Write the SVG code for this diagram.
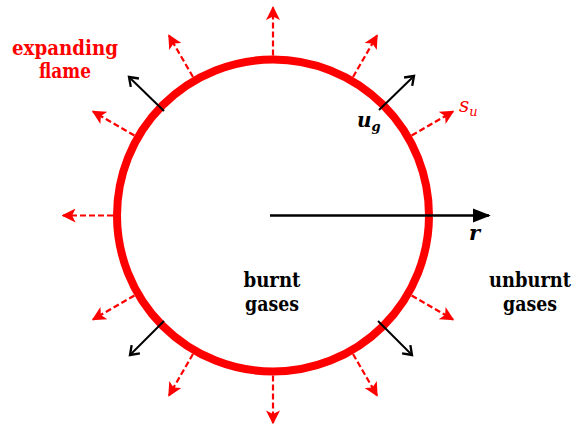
<svg xmlns="http://www.w3.org/2000/svg" width="577" height="424" viewBox="0 0 577 424">
<style>
.red{stroke:#f00;stroke-width:2.2;stroke-dasharray:6 3;fill:none}
.blk{stroke:#000;stroke-width:2;fill:none}
text{font-family:'DejaVu Serif','Liberation Serif',serif}
.lbl{font-weight:bold;font-size:20px;text-anchor:middle}
.it{font-style:italic;font-weight:bold}
.itn{font-style:italic;font-weight:normal}
</style>
<defs>
<marker id="rh" viewBox="0 0 10 10" refX="9" refY="5" markerWidth="14" markerHeight="14" markerUnits="userSpaceOnUse" orient="auto">
<path d="M0,0 L10,5 L0,10 L2.5,5 Z" fill="#f00"/>
</marker>
<marker id="bh" viewBox="0 0 12 12" refX="10" refY="6" markerWidth="14" markerHeight="14" markerUnits="userSpaceOnUse" orient="auto">
<path d="M3,1 L10,6 L3,11" fill="none" stroke="#000" stroke-width="2"/>
</marker>
<marker id="rf" viewBox="0 0 10 10" refX="9" refY="5" markerWidth="18" markerHeight="18" markerUnits="userSpaceOnUse" orient="auto">
<path d="M0,1 L10,5 L0,9 Z" fill="#000"/>
</marker>
</defs>
<g id="flame">
<circle cx="273" cy="215.5" r="156" fill="none" stroke="#f00" stroke-width="8"/>
</g>
<g id="connectors">
<line class="red" x1="353" y1="77" x2="377" y2="35.5" marker-end="url(#rh)"/>
<line class="red" x1="411.6" y1="135.5" x2="453" y2="111.5" marker-end="url(#rh)"/>
<line class="red" x1="273" y1="55.5" x2="273" y2="7.5" marker-end="url(#rh)"/>
<line class="red" x1="193" y1="77" x2="169" y2="35.5" marker-end="url(#rh)"/>
<line class="red" x1="134.4" y1="135.5" x2="93" y2="111.5" marker-end="url(#rh)"/>
<line class="red" x1="113" y1="215.5" x2="63" y2="215.5" marker-end="url(#rh)"/>
<line class="red" x1="134.4" y1="295.5" x2="93" y2="319.5" marker-end="url(#rh)"/>
<line class="red" x1="193" y1="354" x2="169" y2="395.5" marker-end="url(#rh)"/>
<line class="red" x1="273" y1="375.5" x2="273" y2="423" marker-end="url(#rh)"/>
<line class="red" x1="353" y1="354" x2="377" y2="395.5" marker-end="url(#rh)"/>
<line class="red" x1="411.6" y1="295.5" x2="453" y2="319.5" marker-end="url(#rh)"/>
<line class="blk" x1="379" y1="110" x2="414" y2="76" marker-end="url(#bh)"/>
<line class="blk" x1="164" y1="111" x2="129" y2="77" marker-end="url(#bh)"/>
<line class="blk" x1="164" y1="321" x2="130" y2="355" marker-end="url(#bh)"/>
<line class="blk" x1="378" y1="321" x2="412" y2="355" marker-end="url(#bh)"/>
<line stroke="#000" stroke-width="2.5" x1="270" y1="215.5" x2="489" y2="215.5" marker-end="url(#rf)"/>
</g>
<g id="labels">
<text class="lbl" fill="#f00" x="65" y="55" textLength="106" lengthAdjust="spacingAndGlyphs">expanding</text>
<text class="lbl" fill="#f00" x="65" y="78" textLength="52" lengthAdjust="spacingAndGlyphs">flame</text>
<text class="lbl" fill="#000" x="272" y="287" textLength="57" lengthAdjust="spacingAndGlyphs">burnt</text>
<text class="lbl" fill="#000" x="272" y="311" textLength="54" lengthAdjust="spacingAndGlyphs">gases</text>
<text class="lbl" fill="#000" x="530" y="287" textLength="82" lengthAdjust="spacingAndGlyphs">unburnt</text>
<text class="lbl" fill="#000" x="530" y="311" textLength="54" lengthAdjust="spacingAndGlyphs">gases</text>
<text class="it" x="357" y="127" font-size="20" fill="#000">u<tspan font-size="13" dy="4">g</tspan></text>
<text class="itn" x="459" y="112" font-size="20" fill="#f00">s<tspan font-size="13" dy="4">u</tspan></text>
<text class="it" x="469" y="240" font-size="21" fill="#000">r</text>
</g>
</svg>
